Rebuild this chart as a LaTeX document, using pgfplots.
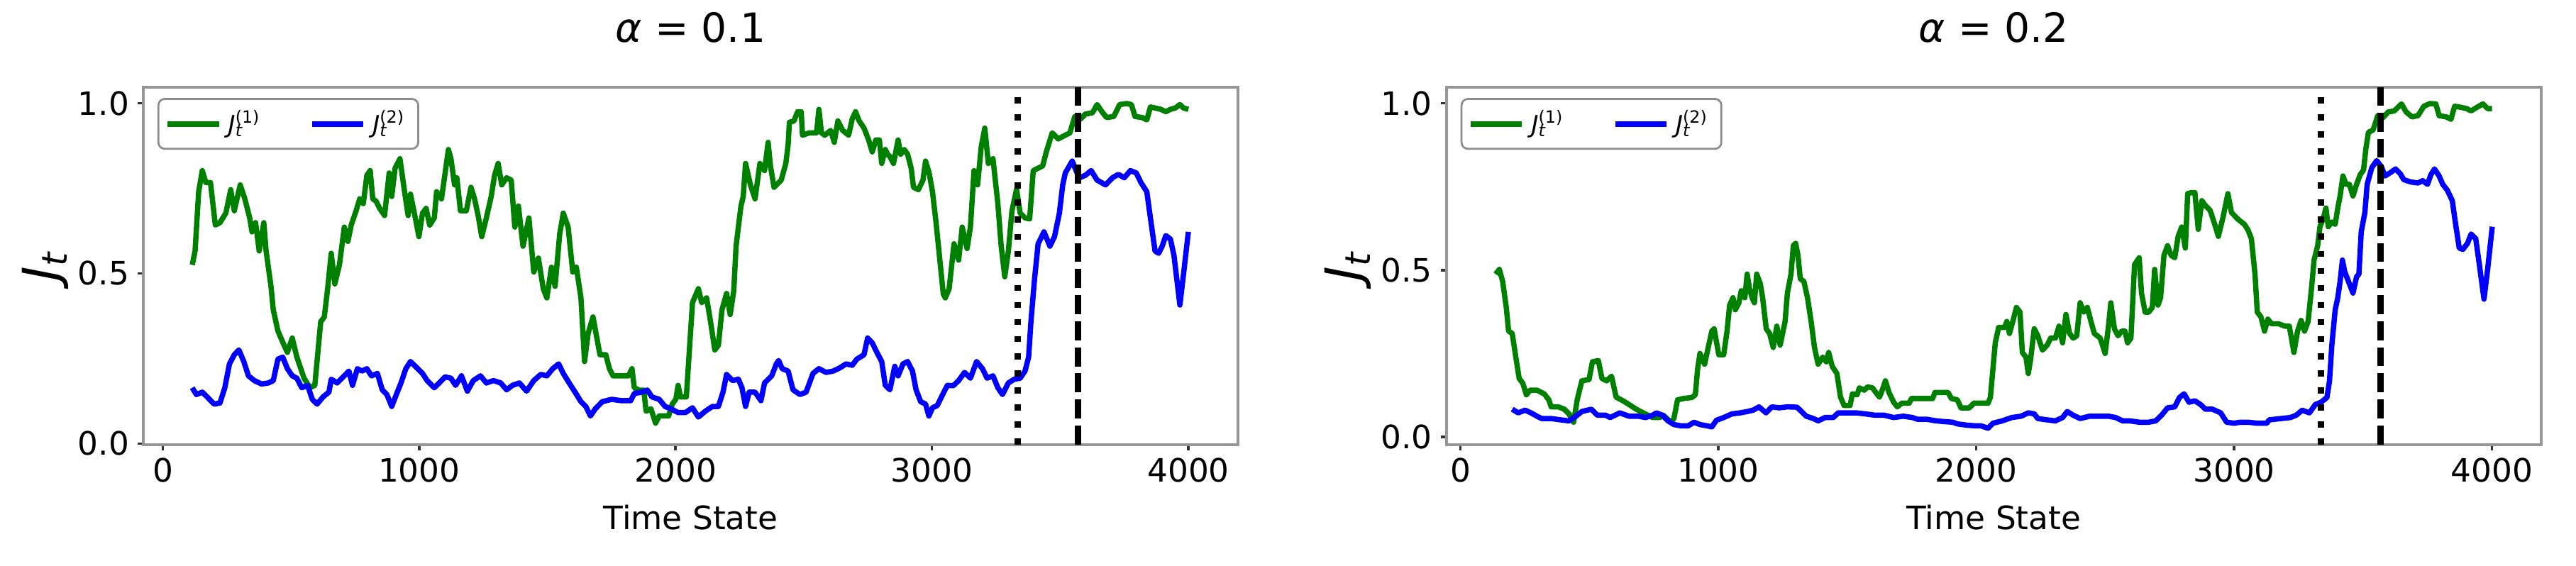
\documentclass[border=0pt]{standalone}
\usepackage{fontspec}
\setmainfont{DejaVu Sans}
\usepackage{pgfplots}
\pgfplotsset{compat=1.18}
\definecolor{mgreen}{RGB}{0,128,0}
\definecolor{mblue}{RGB}{0,0,255}
\definecolor{spinegray}{RGB}{150,150,150}
\definecolor{leggray}{RGB}{140,140,140}
\newcommand{\Jt}[1]{{\itshape J}\rlap{\textsubscript{\itshape t}}\textsuperscript{(#1)}}
\pgfplotsset{
  mystyle/.style={
    scale only axis, width=340pt, height=111pt,
    xtick={0,1000,2000,3000,4000}, ytick={0,0.5,1},
    /pgf/number format/assume math mode=true,
    yticklabel style={/pgf/number format/fixed, /pgf/number format/fixed zerofill, /pgf/number format/precision=1, inner sep=0pt, xshift=-2.4pt},
    xticklabel style={/pgf/number format/set thousands separator={}, inner sep=0pt, yshift=-2.2pt},
    ticklabel style={font=\fontsize{10}{12}\selectfont},
    tick align=outside, tick pos=left,
    major tick length=1.8pt,
    tick style={color=black!80, line width=0.8pt},
    axis line style={spinegray, line width=0.9pt},
    title style={at={(axis description cs:0.5,1.1135)}, anchor=center, font=\fontsize{12.5}{14}\selectfont},
    xlabel style={at={(axis description cs:0.5,-0.2045)}, anchor=center, font=\fontsize{10}{12}\selectfont},
    ylabel style={at={(axis description cs:-0.0897,0.5)}, anchor=center, font=\fontsize{15.5}{17}\selectfont},
    xlabel={Time State},
    ylabel={{\itshape J}\textsubscript{\itshape t}},
    legend columns=2,
    legend image code/.code={\draw[##1, line width=1.8pt] (0pt,0pt) -- (15.9pt,0pt);},
    legend style={at={(axis description cs:0.0129,0.970)}, anchor=north west,
      draw=leggray, line width=0.6pt, rounded corners=2pt, fill=white,
      font=\fontsize{7.5}{9}\selectfont, inner xsep=2pt, inner ysep=1.5pt,
      /tikz/every even column/.append style={column sep=13pt}},
    clip=true,
  },
  gline/.style={mgreen, line width=1.65pt, line join=round},
  bline/.style={mblue, line width=1.65pt, line join=round},
}
\begin{document}
\begin{tikzpicture}
% ---------------- alpha = 0.1 ----------------
\begin{axis}[mystyle, at={(0pt,0pt)}, anchor=south west,
  xmin=-76, xmax=4194, ymin=-0.003, ymax=1.047,
  title={\textit{α} = 0.1}]
\addplot[gline] coordinates {
(115,0.525) (126,0.566) (140,0.740) (154,0.802) (168,0.767) (186,0.767) (205,0.642) (223,0.649)
(246,0.677) (265,0.746) (279,0.684) (302,0.760) (320,0.719) (339,0.663) (348,0.622) (362,0.649)
(376,0.566) (394,0.649) (403,0.566) (422,0.462) (431,0.393) (449,0.331) (473,0.289) (486,0.268)
(505,0.310) (523,0.254) (551,0.192) (574,0.164) (593,0.171) (616,0.358) (630,0.372) (643,0.455)
(657,0.559) (671,0.469) (689,0.525) (708,0.636) (722,0.594) (735,0.642) (754,0.684) (768,0.719)
(782,0.705) (796,0.788) (809,0.802) (819,0.719) (832,0.712) (846,0.691) (865,0.670) (883,0.795)
(893,0.726) (906,0.809) (925,0.837) (943,0.740) (957,0.670) (966,0.733) (985,0.663) (999,0.608)
(1013,0.677) (1027,0.691) (1041,0.642) (1059,0.663) (1068,0.740) (1087,0.719) (1096,0.767) (1114,0.864)
(1124,0.837) (1138,0.760) (1147,0.781) (1161,0.684) (1184,0.684) (1202,0.753) (1216,0.719) (1230,0.670)
(1244,0.608) (1262,0.663) (1281,0.726) (1294,0.788) (1308,0.823) (1322,0.760) (1341,0.781) (1359,0.774)
(1373,0.636) (1387,0.698) (1405,0.580) (1428,0.663) (1447,0.504) (1465,0.545) (1484,0.455) (1498,0.428)
(1516,0.518) (1530,0.462) (1548,0.615) (1562,0.677) (1581,0.636) (1599,0.504) (1613,0.518) (1631,0.428)
(1645,0.241) (1659,0.324) (1678,0.372) (1705,0.261) (1728,0.261) (1742,0.220) (1756,0.199) (1779,0.199)
(1816,0.199) (1830,0.220) (1839,0.164) (1858,0.157) (1876,0.157) (1885,0.095) (1904,0.102) (1922,0.060)
(1936,0.081) (1954,0.081) (1973,0.081) (1987,0.116) (2001,0.130) (2010,0.171) (2019,0.137) (2042,0.137)
(2066,0.414) (2089,0.455) (2102,0.414) (2121,0.428) (2135,0.365) (2153,0.275) (2167,0.289) (2181,0.393)
(2199,0.441) (2213,0.379) (2227,0.449) (2236,0.580) (2255,0.698) (2264,0.726) (2273,0.823) (2292,0.760)
(2310,0.719) (2329,0.823) (2347,0.802) (2361,0.885) (2370,0.816) (2384,0.753) (2412,0.774) (2430,0.823)
(2439,0.878) (2444,0.944) (2462,0.948) (2476,0.975) (2490,0.975) (2495,0.906) (2522,0.913) (2550,0.913)
(2559,0.982) (2569,0.913) (2582,0.906) (2605,0.920) (2619,0.885) (2633,0.948) (2652,0.920) (2675,0.906)
(2689,0.954) (2702,0.975) (2716,0.948) (2735,0.927) (2753,0.892) (2767,0.857) (2781,0.892) (2795,0.892)
(2804,0.823) (2818,0.864) (2827,0.850) (2836,0.843) (2850,0.823) (2868,0.892) (2878,0.850) (2892,0.864)
(2905,0.850) (2919,0.809) (2928,0.753) (2947,0.746) (2965,0.774) (2975,0.830) (2989,0.795) (3002,0.740)
(3016,0.649) (3030,0.545) (3044,0.440) (3052,0.428) (3067,0.455) (3086,0.587) (3104,0.539) (3118,0.636)
(3137,0.573) (3150,0.636) (3164,0.802) (3178,0.760) (3192,0.871) (3206,0.927) (3220,0.823) (3238,0.837)
(3257,0.705) (3270,0.580) (3284,0.490) (3298,0.566) (3312,0.684) (3330,0.747) (3344,0.677) (3363,0.663)
(3381,0.660) (3395,0.802) (3414,0.809) (3432,0.816) (3446,0.857) (3469,0.913) (3492,0.895) (3520,0.906)
(3538,0.913) (3557,0.961) (3580,0.954) (3598,0.968) (3626,0.972) (3644,0.996) (3663,0.975) (3681,0.958)
(3709,0.961) (3732,0.996) (3760,0.999) (3778,0.996) (3792,0.961) (3820,0.958) (3838,0.951) (3852,0.989)
(3870,0.986) (3893,0.982) (3912,0.975) (3930,0.982) (3949,0.986) (3967,0.996) (3981,0.986) (4000,0.982)
};
\addlegendentry{\Jt{1}}
\addplot[bline] coordinates {
(115,0.164) (131,0.144) (154,0.151) (173,0.137) (200,0.116) (223,0.119) (242,0.164) (260,0.234)
(279,0.261) (297,0.275) (316,0.241) (334,0.199) (357,0.185) (385,0.175) (412,0.178) (431,0.185)
(449,0.248) (468,0.254) (486,0.220) (505,0.199) (523,0.192) (542,0.164) (565,0.171) (583,0.130)
(602,0.116) (625,0.137) (648,0.151) (657,0.189) (680,0.178) (708,0.199) (726,0.213) (740,0.171)
(759,0.220) (777,0.213) (796,0.220) (814,0.199) (837,0.206) (856,0.158) (874,0.144) (893,0.109)
(911,0.144) (929,0.178) (948,0.220) (966,0.241) (985,0.227) (1013,0.206) (1031,0.185) (1059,0.164)
(1078,0.178) (1101,0.196) (1124,0.192) (1142,0.171) (1165,0.199) (1188,0.154) (1211,0.185) (1239,0.199)
(1262,0.178) (1290,0.185) (1318,0.178) (1341,0.158) (1364,0.171) (1391,0.178) (1419,0.154) (1447,0.185)
(1474,0.203) (1498,0.199) (1521,0.220) (1544,0.234) (1562,0.206) (1585,0.178) (1608,0.151) (1631,0.123)
(1650,0.109) (1668,0.081) (1687,0.102) (1714,0.123) (1751,0.130) (1788,0.126) (1825,0.126) (1839,0.147)
(1867,0.151) (1890,0.157) (1908,0.137) (1936,0.130) (1959,0.109) (1982,0.102) (2010,0.091) (2038,0.091)
(2066,0.105) (2089,0.078) (2116,0.095) (2144,0.109) (2167,0.109) (2185,0.151) (2199,0.203) (2222,0.185)
(2245,0.189) (2259,0.164) (2273,0.109) (2287,0.151) (2310,0.151) (2333,0.126) (2347,0.178) (2375,0.199)
(2393,0.234) (2402,0.244) (2416,0.220) (2439,0.213) (2458,0.158) (2485,0.144) (2509,0.151) (2536,0.206)
(2559,0.220) (2587,0.209) (2615,0.213) (2642,0.223) (2665,0.234) (2689,0.230) (2707,0.248) (2735,0.261)
(2749,0.310) (2767,0.296) (2785,0.268) (2804,0.241) (2818,0.171) (2836,0.158) (2855,0.227) (2868,0.199)
(2887,0.234) (2905,0.241) (2924,0.213) (2938,0.158) (2956,0.123) (2975,0.116) (2988,0.081) (3002,0.105)
(3021,0.112) (3039,0.140) (3060,0.171) (3083,0.170) (3104,0.185) (3127,0.209) (3150,0.192) (3174,0.241)
(3197,0.220) (3215,0.192) (3238,0.199) (3257,0.164) (3275,0.144) (3298,0.178) (3321,0.189) (3344,0.192)
(3363,0.213) (3377,0.254) (3386,0.358) (3400,0.483) (3414,0.587) (3437,0.622) (3460,0.580) (3478,0.608)
(3497,0.677) (3510,0.760) (3520,0.795) (3547,0.830) (3566,0.795) (3575,0.781) (3598,0.788) (3621,0.802)
(3644,0.774) (3677,0.760) (3704,0.781) (3727,0.791) (3750,0.781) (3774,0.802) (3797,0.795) (3815,0.767)
(3838,0.740) (3852,0.663) (3870,0.566) (3884,0.559) (3898,0.580) (3912,0.611) (3930,0.601) (3944,0.552)
(3967,0.407) (3981,0.497) (4000,0.622)
};
\addlegendentry{\Jt{2}}
\addplot[black, line width=1.9pt, dash pattern=on 1.9pt off 3.4pt, forget plot] coordinates {(3334,-0.003) (3334,1.047)};
\addplot[black, line width=1.9pt, dash pattern=on 5.9pt off 2.2pt, forget plot] coordinates {(3569,-0.003) (3569,1.047)};
\end{axis}
% ---------------- alpha = 0.2 ----------------
\begin{axis}[mystyle, at={(404.7pt,0pt)}, anchor=south west,
  xmin=-54, xmax=4191, ymin=-0.023, ymax=1.048,
  title={\textit{α} = 0.2}]
\addplot[gline] coordinates {
(137,0.488) (151,0.502) (164,0.466) (178,0.388) (187,0.317) (201,0.310) (215,0.239) (228,0.175)
(242,0.161) (256,0.126) (270,0.140) (297,0.140) (325,0.129) (343,0.111) (352,0.090) (380,0.090)
(403,0.083) (421,0.069) (439,0.044) (453,0.111) (471,0.168) (499,0.172) (512,0.225) (535,0.229)
(549,0.175) (567,0.168) (586,0.182) (604,0.119) (631,0.108) (654,0.097) (682,0.083) (709,0.072)
(746,0.058) (773,0.058) (787,0.065) (801,0.055) (815,0.044) (828,0.055) (842,0.111) (865,0.115)
(897,0.118) (911,0.126) (920,0.204) (929,0.250) (947,0.218) (961,0.268) (975,0.317) (984,0.324)
(1002,0.246) (1021,0.246) (1034,0.317) (1044,0.395) (1057,0.417) (1066,0.381) (1080,0.402) (1089,0.438)
(1103,0.417) (1112,0.488) (1121,0.445) (1131,0.417) (1140,0.402) (1149,0.488) (1163,0.459) (1172,0.417)
(1186,0.324) (1199,0.310) (1213,0.268) (1227,0.332) (1240,0.275) (1259,0.346) (1268,0.431) (1282,0.488)
(1291,0.573) (1300,0.580) (1309,0.544) (1318,0.474) (1332,0.466) (1346,0.417) (1360,0.346) (1373,0.268)
(1387,0.218) (1405,0.239) (1419,0.225) (1428,0.253) (1442,0.211) (1460,0.190) (1474,0.119) (1488,0.094)
(1511,0.094) (1520,0.129) (1538,0.126) (1547,0.147) (1566,0.140) (1579,0.150) (1598,0.147) (1611,0.133)
(1625,0.119) (1639,0.147) (1648,0.168) (1662,0.133) (1680,0.104) (1694,0.090) (1712,0.101) (1740,0.101)
(1749,0.115) (1790,0.115) (1831,0.115) (1840,0.133) (1891,0.133) (1904,0.115) (1927,0.111) (1941,0.087)
(1973,0.087) (1991,0.101) (2046,0.101) (2055,0.118) (2065,0.204) (2074,0.282) (2087,0.328) (2110,0.328)
(2119,0.346) (2129,0.310) (2142,0.346) (2156,0.388) (2170,0.374) (2179,0.253) (2193,0.239) (2202,0.190)
(2211,0.232) (2225,0.324) (2239,0.303) (2257,0.260) (2275,0.275) (2289,0.296) (2307,0.296) (2321,0.332)
(2335,0.282) (2348,0.367) (2362,0.310) (2376,0.296) (2390,0.303) (2403,0.402) (2417,0.374) (2431,0.388)
(2445,0.346) (2458,0.310) (2481,0.296) (2500,0.250) (2513,0.332) (2522,0.402) (2536,0.324) (2550,0.303)
(2564,0.317) (2577,0.317) (2587,0.282) (2600,0.296) (2614,0.516) (2632,0.537) (2641,0.431) (2655,0.374)
(2669,0.374) (2683,0.388) (2692,0.502) (2705,0.395) (2715,0.417) (2728,0.544) (2742,0.573) (2756,0.544)
(2770,0.537) (2783,0.601) (2797,0.629) (2811,0.566) (2820,0.729) (2834,0.732) (2848,0.732) (2861,0.622)
(2875,0.708) (2889,0.693) (2907,0.679) (2925,0.637) (2939,0.601) (2957,0.658) (2976,0.729) (2990,0.672)
(3017,0.651) (3040,0.637) (3054,0.620) (3067,0.594) (3081,0.488) (3090,0.374) (3104,0.360) (3118,0.317)
(3131,0.353) (3145,0.339) (3173,0.339) (3196,0.332) (3214,0.332) (3232,0.253) (3246,0.317) (3260,0.349)
(3273,0.317) (3287,0.346) (3301,0.452) (3310,0.530) (3324,0.573) (3333,0.630) (3347,0.658) (3356,0.686)
(3365,0.630) (3379,0.644) (3392,0.637) (3402,0.686) (3411,0.722) (3422,0.782) (3434,0.757) (3447,0.757)
(3461,0.722) (3475,0.757) (3489,0.786) (3502,0.800) (3511,0.864) (3521,0.913) (3539,0.920) (3557,0.963)
(3576,0.956) (3598,0.974) (3621,0.977) (3649,0.998) (3667,0.974) (3690,0.959) (3713,0.963) (3736,0.991)
(3759,0.999) (3782,0.998) (3795,0.963) (3823,0.959) (3841,0.952) (3855,0.991) (3878,0.988) (3901,0.984)
(3919,0.977) (3942,0.988) (3965,0.998) (3983,0.984) (4000,0.984)
};
\addlegendentry{\Jt{1}}
\addplot[bline] coordinates {
(201,0.083) (224,0.072) (251,0.080) (274,0.072) (297,0.062) (315,0.055) (352,0.055) (389,0.051)
(421,0.048) (448,0.062) (471,0.076) (508,0.083) (531,0.065) (563,0.065) (581,0.058) (618,0.072)
(654,0.062) (691,0.062) (718,0.058) (746,0.065) (760,0.072) (783,0.065) (805,0.048) (828,0.037)
(856,0.033) (883,0.033) (906,0.044) (929,0.037) (957,0.033) (975,0.030) (993,0.050) (1021,0.058)
(1053,0.069) (1085,0.072) (1112,0.076) (1135,0.080) (1158,0.090) (1185,0.072) (1208,0.090) (1236,0.087)
(1268,0.090) (1305,0.089) (1323,0.076) (1341,0.062) (1369,0.055) (1387,0.048) (1414,0.058) (1446,0.058)
(1465,0.072) (1497,0.072) (1534,0.072) (1570,0.069) (1607,0.065) (1643,0.065) (1680,0.058) (1717,0.062)
(1753,0.058) (1772,0.053) (1808,0.053) (1836,0.049) (1872,0.046) (1909,0.044) (1927,0.039) (1964,0.035)
(2000,0.033) (2019,0.033) (2046,0.026) (2065,0.041) (2101,0.048) (2138,0.058) (2174,0.062) (2202,0.072)
(2225,0.069) (2239,0.055) (2275,0.051) (2307,0.048) (2335,0.058) (2353,0.076) (2376,0.065) (2403,0.055)
(2440,0.062) (2477,0.062) (2513,0.062) (2541,0.058) (2568,0.048) (2596,0.048) (2632,0.044) (2669,0.044)
(2696,0.048) (2719,0.065) (2742,0.087) (2770,0.090) (2788,0.118) (2806,0.129) (2825,0.104) (2848,0.108)
(2870,0.097) (2889,0.083) (2916,0.083) (2948,0.072) (2971,0.044) (2999,0.041) (3026,0.044) (3054,0.044)
(3090,0.041) (3127,0.041) (3136,0.051) (3182,0.055) (3218,0.058) (3241,0.065) (3264,0.080) (3292,0.072)
(3315,0.097) (3337,0.104) (3360,0.118) (3370,0.168) (3379,0.275) (3392,0.381) (3402,0.417) (3411,0.466)
(3420,0.530) (3429,0.495) (3447,0.459) (3461,0.431) (3475,0.480) (3484,0.488) (3493,0.615) (3507,0.672)
(3516,0.757) (3534,0.807) (3553,0.828) (3571,0.810) (3585,0.782) (3608,0.793) (3626,0.803) (3644,0.789)
(3658,0.771) (3685,0.764) (3713,0.761) (3731,0.768) (3750,0.757) (3763,0.786) (3777,0.803) (3795,0.782)
(3809,0.757) (3827,0.739) (3846,0.708) (3859,0.637) (3873,0.566) (3887,0.562) (3905,0.580) (3919,0.608)
(3937,0.594) (3951,0.516) (3969,0.413) (3983,0.502) (4001,0.630)
};
\addlegendentry{\Jt{2}}
\addplot[black, line width=1.9pt, dash pattern=on 1.9pt off 3.4pt, forget plot] coordinates {(3336,-0.023) (3336,1.048)};
\addplot[black, line width=1.9pt, dash pattern=on 5.9pt off 2.2pt, forget plot] coordinates {(3568,-0.023) (3568,1.048)};
\end{axis}
\pgfresetboundingbox
\path[use as bounding box] (-44.5pt,-37.7pt) rectangle (755.5pt,138.1pt);
\end{tikzpicture}
\end{document}
